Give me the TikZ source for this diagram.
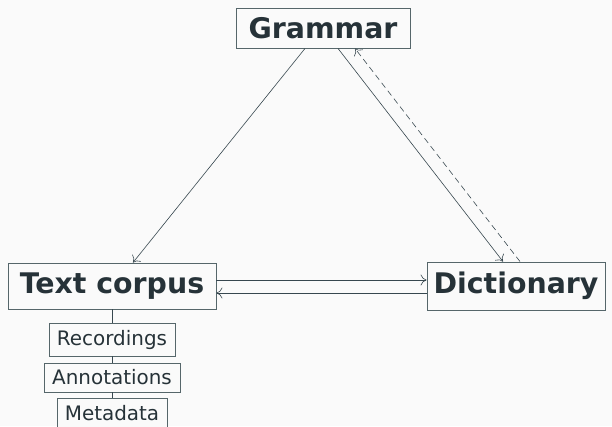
\documentclass[tikz,border=0pt]{standalone}
\usepackage{fontspec}
\setmainfont{DejaVu Sans}
\usetikzlibrary{arrows.meta}
\definecolor{txt}{HTML}{263238}
\definecolor{ln}{HTML}{37474F}
\definecolor{bd}{HTML}{55666A}
\definecolor{bg}{HTML}{FAFAFA}
\tikzset{
  bigbox/.style={draw=bd, line width=0.9bp, fill=bg, text=txt, inner sep=0pt, font=\fontsize{28.5}{30}\selectfont\bfseries},
  smallbox/.style={draw=bd, line width=0.9bp, fill=bg, text=txt, inner sep=0pt, font=\fontsize{20}{22}\selectfont},
  conn/.style={draw=ln, line width=0.6bp, -{To[length=6bp,width=11bp]}},
  link/.style={draw=ln, line width=0.8bp},
}
\begin{document}
\begin{tikzpicture}[x=1bp,y=-1bp]
\useasboundingbox (0,0) rectangle (612,426);
\fill[bg] (0,0) rectangle (612,426);
\begin{scope}
\clip (0,0) rectangle (612,426);
\node[bigbox, minimum width=174bp, minimum height=40bp] (gram) at (323,28) {Grammar};
\node[bigbox, minimum width=208bp, minimum height=46bp] (corp) at (112,286) {Text corpus};
\node[bigbox, minimum width=178bp, minimum height=48bp] (dict) at (516,286) {Dictionary};
\node[smallbox, minimum width=126bp, minimum height=33bp] (rec) at (112,339.5) {Recordings};
\node[smallbox, minimum width=136bp, minimum height=29bp] (ann) at (112,377.5) {Annotations};
\node[smallbox, minimum width=110bp, minimum height=30bp] (meta) at (112,413) {Metadata};

\draw[link] (corp.south) -- (rec.north);
\draw[link] (rec.south) -- (ann.north);
\draw[link] (ann.south) -- (meta.north);

\draw[conn] (gram.south -| 305,0) -- (corp.north -| 133,0);
\draw[conn] (gram.south -| 338,0) -- (dict.north -| 503,0);
\draw[conn, dashed, dash pattern=on 6bp off 4bp] (dict.north -| 520,0) -- (gram.south -| 355,0);
\draw[conn] (corp.east |- 0,280) -- (dict.west |- 0,280);
\draw[conn] (dict.west |- 0,293) -- (corp.east |- 0,293);
\end{scope}
\end{tikzpicture}
\end{document}
